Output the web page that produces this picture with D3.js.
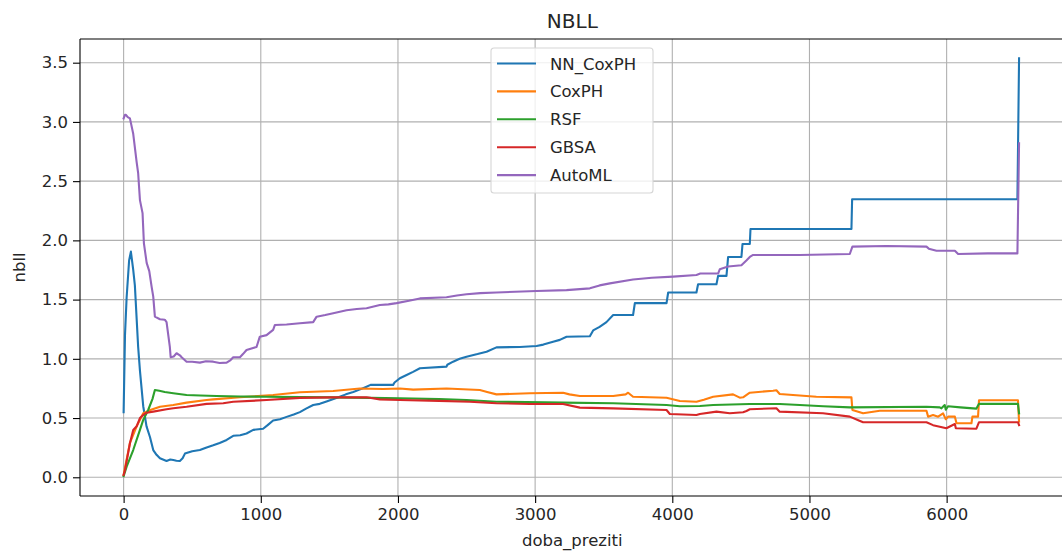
<!DOCTYPE html>
<html>
<head>
<meta charset="utf-8">
<script src="https://cdn.jsdelivr.net/npm/d3@7"></script>
<style>
  html, body { margin: 0; padding: 0; background: #fff; }
  svg { display: block; font-family: "DejaVu Sans", sans-serif; }
</style>
</head>
<body>
<svg id="chart" width="1062" height="556"></svg>
<script>
// NBLL over survival time for five survival models
const seriesNames = ["NN_CoxPH", "CoxPH", "RSF", "GBSA", "AutoML"];
const seriesColors = ["#1f77b4", "#ff7f0e", "#2ca02c", "#d62728", "#9467bd"];
const xTicks = [0, 1000, 2000, 3000, 4000, 5000, 6000];
const yTicks = [0.0, 0.5, 1.0, 1.5, 2.0, 2.5, 3.0, 3.5];

const nnCoxph = [[0,0.55],[10,1.2],[22,1.52],[40,1.83],[53,1.905],[70,1.75],[82,1.62],[106,1.10],[119,0.9],[143,0.6],[167,0.43],[192,0.34],[216,0.23],[240,0.19],[265,0.16],[313,0.138],[340,0.15],[362,0.146],[385,0.14],[410,0.138],[430,0.16],[447,0.2],[500,0.22],[556,0.23],[600,0.25],[653,0.27],[700,0.29],[751,0.315],[799,0.35],[850,0.355],[896,0.37],[945,0.40],[1017,0.41],[1050,0.44],[1090,0.48],[1140,0.49],[1188,0.51],[1240,0.53],[1285,0.55],[1330,0.58],[1382,0.61],[1430,0.62],[1479,0.64],[1530,0.66],[1576,0.68],[1620,0.70],[1674,0.72],[1720,0.74],[1771,0.765],[1800,0.78],[1868,0.78],[1965,0.78],[1975,0.80],[2014,0.836],[2063,0.864],[2110,0.89],[2160,0.92],[2354,0.934],[2360,0.95],[2402,0.976],[2450,1.0],[2500,1.018],[2580,1.04],[2646,1.06],[2718,1.097],[2889,1.10],[3010,1.108],[3060,1.12],[3131,1.145],[3180,1.16],[3229,1.187],[3399,1.19],[3423,1.24],[3470,1.27],[3520,1.31],[3569,1.37],[3714,1.37],[3727,1.47],[3958,1.47],[3970,1.56],[4176,1.56],[4188,1.63],[4322,1.63],[4334,1.70],[4395,1.70],[4407,1.86],[4504,1.86],[4512,1.97],[4565,1.97],[4570,2.096],[5306,2.096],[5311,2.347],[6516,2.347],[6528,3.537]];

const coxph = [[0,0.02],[10,0.08],[46,0.29],[95,0.43],[143,0.54],[200,0.57],[265,0.596],[362,0.61],[459,0.63],[605,0.652],[653,0.658],[848,0.675],[1090,0.695],[1285,0.718],[1528,0.728],[1722,0.75],[1800,0.748],[1892,0.745],[2014,0.75],[2111,0.74],[2354,0.75],[2597,0.737],[2650,0.72],[2718,0.70],[2961,0.71],[3204,0.714],[3250,0.70],[3326,0.686],[3569,0.686],[3660,0.70],[3678,0.714],[3714,0.68],[3958,0.672],[4055,0.644],[4176,0.638],[4230,0.655],[4298,0.68],[4443,0.70],[4492,0.672],[4516,0.675],[4565,0.714],[4735,0.731],[4759,0.735],[4783,0.703],[5050,0.68],[5306,0.675],[5313,0.568],[5391,0.54],[5513,0.562],[5853,0.562],[5865,0.512],[5901,0.526],[5938,0.512],[5974,0.54],[5994,0.49],[6011,0.512],[6060,0.512],[6072,0.456],[6181,0.456],[6188,0.512],[6229,0.512],[6236,0.65],[6520,0.65],[6528,0.47]];

const rsf = [[0,0.01],[22,0.09],[70,0.23],[119,0.40],[143,0.484],[179,0.568],[210,0.66],[228,0.737],[260,0.73],[300,0.72],[362,0.71],[459,0.695],[560,0.69],[678,0.686],[850,0.682],[1042,0.68],[1300,0.677],[1528,0.675],[1800,0.67],[2014,0.667],[2300,0.66],[2500,0.652],[2718,0.638],[3204,0.63],[3569,0.625],[3958,0.61],[4055,0.60],[4201,0.602],[4298,0.61],[4565,0.619],[4784,0.619],[4929,0.61],[5100,0.60],[5294,0.59],[5853,0.596],[5950,0.59],[5962,0.582],[5986,0.61],[5994,0.57],[6010,0.6],[6100,0.59],[6217,0.58],[6236,0.62],[6520,0.62],[6528,0.54]];

const gbsa = [[0,0.02],[10,0.06],[46,0.287],[70,0.40],[95,0.43],[119,0.50],[143,0.526],[168,0.545],[216,0.554],[313,0.574],[362,0.583],[459,0.596],[605,0.62],[726,0.625],[799,0.638],[1042,0.652],[1285,0.67],[1528,0.675],[1771,0.675],[1868,0.658],[2014,0.652],[2300,0.645],[2524,0.638],[2718,0.625],[2961,0.619],[3204,0.619],[3326,0.588],[3569,0.582],[3958,0.568],[3982,0.534],[4176,0.526],[4201,0.534],[4322,0.554],[4419,0.54],[4516,0.549],[4541,0.56],[4565,0.574],[4759,0.583],[4783,0.554],[5099,0.54],[5294,0.512],[5360,0.48],[5391,0.465],[5513,0.465],[5853,0.465],[5901,0.44],[5950,0.427],[5998,0.414],[6060,0.45],[6067,0.414],[6217,0.41],[6236,0.465],[6520,0.465],[6528,0.44]];

const automl = [[0,3.03],[10,3.06],[17,3.06],[30,3.04],[46,3.03],[70,2.90],[95,2.66],[106,2.567],[119,2.34],[138,2.23],[148,1.975],[168,1.81],[187,1.74],[204,1.61],[216,1.525],[228,1.356],[265,1.334],[300,1.33],[313,1.31],[337,1.10],[343,1.013],[365,1.02],[386,1.047],[410,1.03],[423,1.013],[459,0.976],[500,0.975],[556,0.968],[600,0.98],[653,0.976],[700,0.965],[751,0.968],[780,0.99],[799,1.013],[848,1.013],[870,1.04],[896,1.075],[969,1.10],[993,1.187],[1042,1.20],[1090,1.244],[1103,1.286],[1188,1.29],[1285,1.30],[1382,1.31],[1407,1.356],[1470,1.37],[1528,1.385],[1625,1.41],[1700,1.42],[1771,1.427],[1868,1.455],[1930,1.46],[1990,1.47],[2080,1.49],[2160,1.51],[2354,1.52],[2430,1.535],[2500,1.545],[2600,1.555],[2718,1.56],[3010,1.573],[3229,1.58],[3399,1.595],[3470,1.62],[3545,1.637],[3714,1.67],[3850,1.685],[4006,1.694],[4176,1.708],[4204,1.72],[4334,1.72],[4346,1.756],[4407,1.78],[4504,1.79],[4540,1.83],[4565,1.86],[4589,1.877],[4929,1.877],[5294,1.885],[5313,1.947],[5561,1.953],[5853,1.947],[5870,1.93],[5926,1.913],[6060,1.913],[6084,1.885],[6300,1.89],[6516,1.89],[6528,2.82]];

const seriesData = [nnCoxph, coxph, rsf, gbsa, automl];

const svg = d3.select("#chart");
const plot = { left: 80, right: 1064.6, top: 39, bottom: 496 };

const x = d3.scaleLinear().domain([-318, 6860]).range([plot.left, plot.right]);
const y = d3.scaleLinear().domain([-0.158, 3.70]).range([plot.bottom, plot.top]);

const gridColor = "#b0b0b0";

// grid lines
svg.append("g").selectAll("line.vx").data(xTicks).join("line")
  .attr("x1", d => x(d)).attr("x2", d => x(d))
  .attr("y1", plot.top).attr("y2", plot.bottom)
  .attr("stroke", gridColor).attr("stroke-width", 1.1);
svg.append("g").selectAll("line.hy").data(yTicks).join("line")
  .attr("x1", plot.left).attr("x2", plot.right)
  .attr("y1", d => y(d)).attr("y2", d => y(d))
  .attr("stroke", gridColor).attr("stroke-width", 1.1);

// series lines
const line = d3.line().x(d => x(d[0])).y(d => y(d[1]));
const clip = svg.append("clipPath").attr("id", "plotclip").append("rect")
  .attr("x", plot.left).attr("y", plot.top)
  .attr("width", plot.right - plot.left).attr("height", plot.bottom - plot.top);
const linesG = svg.append("g").attr("clip-path", "url(#plotclip)");
seriesData.forEach((data, i) => {
  linesG.append("path")
    .datum(data)
    .attr("d", line)
    .attr("fill", "none")
    .attr("stroke", seriesColors[i])
    .attr("stroke-width", 2.1)
    .attr("stroke-linejoin", "round")
    .attr("stroke-linecap", "square");
});

// axes
const xAxis = d3.axisBottom(x).tickValues(xTicks).tickFormat(d3.format("d")).tickSize(7).tickPadding(5);
const yAxis = d3.axisLeft(y).tickValues(yTicks).tickFormat(d3.format(".1f")).tickSize(7).tickPadding(5);

const gx = svg.append("g").attr("transform", `translate(0,${plot.bottom})`).call(xAxis);
const gy = svg.append("g").attr("transform", `translate(${plot.left},0)`).call(yAxis);
[gx, gy].forEach(g => {
  g.select(".domain").remove();
  g.selectAll(".tick line").attr("stroke", "#000").attr("stroke-width", 1.1);
  g.selectAll(".tick text").attr("fill", "#262626")
    .style("font-family", "DejaVu Sans").style("font-size", "16.5px");
});

// spines
svg.append("line").attr("x1", plot.left).attr("x2", plot.left)
  .attr("y1", plot.top).attr("y2", plot.bottom).attr("stroke", "#000").attr("stroke-width", 1.1);
svg.append("line").attr("x1", plot.left).attr("x2", plot.right)
  .attr("y1", plot.bottom).attr("y2", plot.bottom).attr("stroke", "#000").attr("stroke-width", 1.1);
svg.append("line").attr("x1", plot.left).attr("x2", plot.right)
  .attr("y1", plot.top).attr("y2", plot.top).attr("stroke", "#000").attr("stroke-width", 1.1);
svg.append("line").attr("x1", plot.right).attr("x2", plot.right)
  .attr("y1", plot.top).attr("y2", plot.bottom).attr("stroke", "#000").attr("stroke-width", 1.1);

// title and axis labels
svg.append("text").attr("x", (plot.left + plot.right) / 2).attr("y", 28)
  .attr("text-anchor", "middle").style("font-size", "20px").attr("fill", "#262626").text("NBLL");
svg.append("text").attr("x", (plot.left + plot.right) / 2).attr("y", 546)
  .attr("text-anchor", "middle").style("font-size", "16.5px").attr("fill", "#262626").text("doba_preziti");
svg.append("text").attr("transform", `translate(25,${(plot.top + plot.bottom) / 2}) rotate(-90)`)
  .attr("text-anchor", "middle").style("font-size", "16.5px").attr("fill", "#262626").text("nbll");

// legend
const legend = svg.append("g").attr("transform", "translate(491,48)");
legend.append("rect").attr("x", 0).attr("y", 0).attr("width", 162).attr("height", 145)
  .attr("rx", 3).attr("fill", "#fff").attr("fill-opacity", 0.8)
  .attr("stroke", "#d6d6d6").attr("stroke-width", 1.1);
seriesNames.forEach((name, i) => {
  const row = legend.append("g").attr("transform", `translate(0,${15.5 + i * 27.9})`);
  row.append("line").attr("x1", 6).attr("x2", 45).attr("y1", 0).attr("y2", 0)
    .attr("stroke", seriesColors[i]).attr("stroke-width", 2.1);
  row.append("text").attr("x", 59).attr("y", 6).style("font-size", "16.5px")
    .attr("fill", "#262626").text(name);
});
</script>
</body>
</html>
